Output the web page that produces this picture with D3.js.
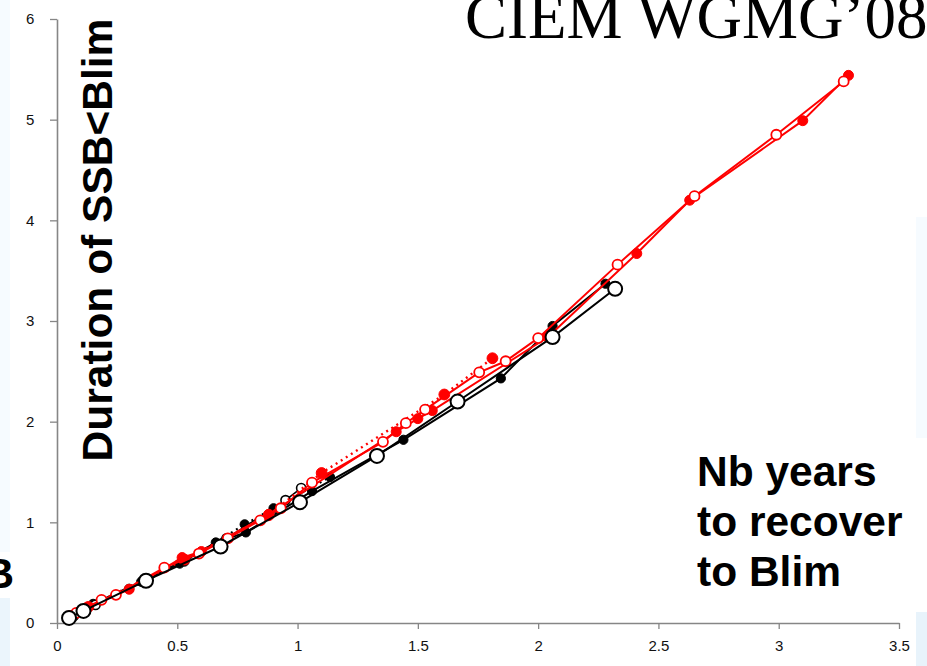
<!DOCTYPE html>
<html>
<head>
<meta charset="utf-8">
<script src="https://cdn.jsdelivr.net/npm/d3@7/dist/d3.min.js"></script>
<style>
  html, body { margin: 0; padding: 0; background: #fff; }
  svg { display: block; }
</style>
</head>
<body>
<svg id="chart" width="927" height="666"></svg>
<script>
// Axis ticks
const xTicks = [0, 0.5, 1, 1.5, 2, 2.5, 3, 3.5];
const yTicks = [0, 1, 2, 3, 4, 5, 6];

// Recovery time (x) vs duration of SSB<Blim (y), one array per run
const blackOpenLarge = [[0.05,0.05],[0.11,0.12],[0.37,0.42],[0.68,0.76],[1.01,1.20],[1.33,1.66],[1.665,2.20],[2.06,2.84],[2.32,3.32]];
const blackFilled = [[0.06,0.06],[0.15,0.19],[0.35,0.41],[0.51,0.59],[0.66,0.80],[0.785,0.90],[1.06,1.31],[1.44,1.82],[1.845,2.43],[2.06,2.95],[2.28,3.37]];
const blackOpenSmall = [[0.07,0.07],[0.16,0.18],[0.36,0.42],[0.705,0.84],[0.95,1.22],[1.015,1.34]];
const blackFilledDot = [[0.06,0.07],[0.30,0.34],[0.53,0.61],[0.78,0.98],[0.90,1.14],[1.135,1.45]];
const redFilled = [[0.05,0.07],[0.12,0.15],[0.30,0.335],[0.52,0.65],[0.60,0.71],[0.88,1.08],[1.41,1.90],[1.50,2.03],[1.56,2.11],[2.04,2.84],[2.41,3.67],[2.63,4.20],[3.10,4.99],[3.29,5.44]];
const redOpen = [[0.08,0.10],[0.185,0.23],[0.245,0.28],[0.446,0.55],[0.59,0.69],[0.71,0.84],[0.845,1.02],[0.93,1.14],[1.06,1.395],[1.355,1.80],[1.45,1.985],[1.53,2.12],[1.755,2.49],[1.865,2.60],[2.00,2.83],[2.33,3.56],[2.65,4.24],[2.99,4.85],[3.27,5.38]];
const redFilledDot = [[0.06,0.07],[0.13,0.16],[0.53,0.63],[0.88,1.07],[1.10,1.49],[1.61,2.27],[1.81,2.63]];

const svg = d3.select("#chart");

// Pale side panels at the page edges
const panels = [
  {x: 0, y: 0, w: 10, h: 552, c: "#f6fbff"},
  {x: 0, y: 598, w: 10, h: 68, c: "#ebf5fc"},
  {x: 916, y: 217, w: 11, h: 221, c: "#f6fbff"},
  {x: 916, y: 612, w: 11, h: 54, c: "#e8f3fb"}
];
svg.selectAll("rect.panel").data(panels).join("rect")
  .attr("class", "panel")
  .attr("x", d => d.x).attr("y", d => d.y)
  .attr("width", d => d.w).attr("height", d => d.h)
  .attr("fill", d => d.c);

const x = d3.scaleLinear().domain([0, 3.5]).range([57, 899]);
const y = d3.scaleLinear().domain([0, 6]).range([623, 19]);

// Axes
const gx = svg.append("g").attr("transform", `translate(0,${y(0)})`)
  .call(d3.axisBottom(x).tickValues(xTicks).tickFormat(d3.format("")).tickSize(6).tickSizeOuter(0));
const gy = svg.append("g").attr("transform", `translate(${x(0)},0)`)
  .call(d3.axisLeft(y).tickValues(yTicks).tickFormat(d3.format("d")).tickSize(7).tickSizeOuter(0));
[gx, gy].forEach(g => {
  g.select(".domain").attr("stroke", "#868686").attr("stroke-width", 1.6);
  g.selectAll(".tick line").attr("stroke", "#868686").attr("stroke-width", 1.3);
  g.selectAll(".tick text").attr("fill", "#111").attr("font-family", "Liberation Sans, Arial, sans-serif").attr("font-size", 15);
});
gx.selectAll(".tick text").attr("dy", "1.25em");
gy.selectAll(".tick text").attr("dx", "-0.85em");

const line = d3.line().x(d => x(d[0])).y(d => y(d[1]));

function drawSeries(data, color, lineWidth, dash, r, open, sw) {
  const g = svg.append("g");
  g.append("path").datum(data)
    .attr("d", line).attr("fill", "none")
    .attr("stroke", color).attr("stroke-width", lineWidth)
    .attr("stroke-dasharray", dash || null);
  g.selectAll("circle").data(data).join("circle")
    .attr("cx", d => x(d[0])).attr("cy", d => y(d[1])).attr("r", r)
    .attr("fill", open ? "#fff" : color)
    .attr("stroke", color).attr("stroke-width", sw);
}

drawSeries(blackFilledDot, "#000", 2, "2,4", 4.6, false, 1);
drawSeries(blackFilled, "#000", 2, null, 4.6, false, 1);
drawSeries(blackOpenSmall, "#000", 1.6, null, 4.6, true, 1.6);
drawSeries(redFilledDot, "#ff0000", 2.4, "2,4", 5.4, false, 1);
drawSeries(redFilled, "#ff0000", 2, null, 5, false, 1);
drawSeries(redOpen, "#ff0000", 2, null, 5, true, 1.8);
drawSeries(blackOpenLarge, "#000", 2, null, 7, true, 2);

// Titles
svg.append("text")
  .attr("x", 465).attr("y", 38)
  .attr("font-family", "Liberation Serif, Times New Roman, serif")
  .attr("font-size", 63)
  .attr("fill", "#000")
  .text("CIEM WGMG’08");

svg.append("text")
  .attr("transform", "translate(112,240) rotate(-90)")
  .attr("text-anchor", "middle")
  .attr("font-family", "Liberation Sans, Arial, sans-serif")
  .attr("font-weight", "bold")
  .attr("font-size", 42.5)
  .attr("fill", "#000")
  .text("Duration of SSB<Blim");

const noteLines = ["Nb years", "to recover", "to Blim"];
svg.append("g").selectAll("text").data(noteLines).join("text")
  .attr("x", 697).attr("y", (d, i) => 486 + i * 50)
  .attr("font-family", "Liberation Sans, Arial, sans-serif")
  .attr("font-weight", "bold")
  .attr("font-size", 42.5)
  .attr("fill", "#000")
  .text(d => d);

svg.append("text")
  .attr("x", 14).attr("y", 588)
  .attr("text-anchor", "end")
  .attr("font-family", "Liberation Sans, Arial, sans-serif")
  .attr("font-weight", "bold")
  .attr("font-size", 42)
  .attr("fill", "#000")
  .text("SSB");
</script>
</body>
</html>
